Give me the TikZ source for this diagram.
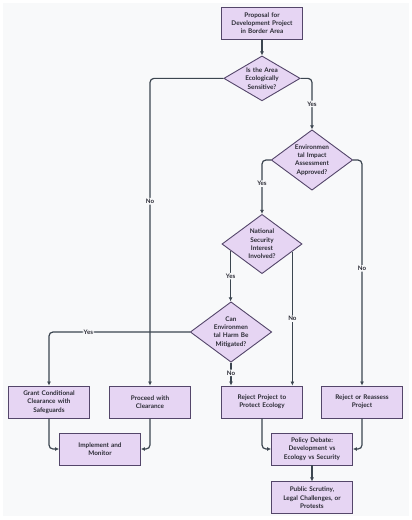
\documentclass[tikz,border=0pt]{standalone}
\usepackage{fontspec}
\setmainfont{Lato}
\usetikzlibrary{positioning,shapes.geometric,calc,arrows.meta}

\definecolor{bgcol}{HTML}{F8F9FA}
\definecolor{boxfill}{HTML}{E6D5F3}
\definecolor{boxline}{HTML}{54466A}
\definecolor{linecol}{HTML}{3C4650}
\definecolor{txtcol}{HTML}{2B2B35}

\tikzset{
  box/.style={draw=boxline, fill=boxfill, line width=0.9pt, minimum width=81pt, minimum height=32pt,
    text width=76pt, align=center, inner sep=0pt, text=txtcol, font=\bfseries\fontsize{6.4}{8.3}\selectfont},
  decision/.style={diamond, draw=boxline, fill=boxfill, line width=0.9pt, aspect=1.35,
    text width=40pt, align=center, inner sep=0pt, text=txtcol, font=\bfseries\fontsize{6.4}{8.3}\selectfont},
  flow/.style={draw=linecol, line width=1.2pt, rounded corners=4pt, -{Latex[length=4pt,width=4pt]}},
  lbl/.style={fill=bgcol, inner sep=1pt, text=txtcol, font=\bfseries\fontsize{6.2}{7}\selectfont}
}

\begin{document}
\begin{tikzpicture}[x=1pt,y=-1pt]
    \useasboundingbox (0,0) rectangle (412,520);
    \fill[bgcol] (3,3) rectangle (409,516);

    \node (proposal) [box] at (262,23) {Proposal for\\Development Project\\in Border Area};
    \node (sensitive) [decision, aspect=1.7, below=16pt of proposal] {Is the Area\\Ecologically\\Sensitive?};
    \node (eia) [decision] at (312,160) {Environmen\\tal Impact\\Assessment\\Approved?};
    \node (security) [decision] at (262,244) {National\\Security\\Interest\\Involved?};
    \node (mitigate) [decision] at (231,332) {Can\\Environmen\\tal Harm Be\\Mitigated?};

    \node (grant) [box] at (49,402) {Grant Conditional\\Clearance with\\Safeguards};
    \node (proceed) [box] at (150,402) {Proceed with\\Clearance};
    \node (rejecteco) [box] at (262,402) {Reject Project to\\Protect Ecology};
    \node (reassess) [box] at (362,402) {Reject or Reassess\\Project};
    \node (implement) [box] at (100,449) {Implement and\\Monitor};
    \node (debate) [box] at (312,449) {Policy Debate:\\Development vs\\Ecology vs Security};
    \node (public) [box, below=16pt of debate] {Public Scrutiny,\\Legal Challenges, or\\Protests};

    % exits on the lower edges of the security diamond
    \coordinate (secyes) at ($(security.south)!0.775!(security.west)$);
    \coordinate (secno) at ($(security.south)!0.75!(security.east)$);

    \draw[flow] (proposal) -- (sensitive);
    \draw[flow] (sensitive.east) -| node[lbl, pos=0.75] {Yes} (eia.north);
    \draw[flow] (sensitive.west) -| node[lbl, pos=0.7] {No} (proceed.north);
    \draw[flow] (eia.west) -| node[lbl, pos=0.72] {Yes} (security.north);
    \draw[flow] (eia.east) -| node[lbl, pos=0.74] {No} (reassess.north);
    \draw[flow] (secyes) -- node[lbl] {Yes} (secyes |- mitigate.north);
    \draw[flow] (secno) -- node[lbl] {No} (secno |- rejecteco.north);
    \draw[flow] (mitigate.west) -| node[lbl, pos=0.36] {Yes} (grant.north);
    \draw[flow] (mitigate.south) -- node[lbl, pos=0.45] {No} (mitigate.south |- rejecteco.north);
    \draw[flow] (grant.south) |- (implement.west);
    \draw[flow] (proceed.south) |- (implement.east);
    \draw[flow] (rejecteco.south) |- (debate.west);
    \draw[flow] (reassess.south) |- (debate.east);
    \draw[flow] (debate) -- (public);

\end{tikzpicture}
\end{document}
